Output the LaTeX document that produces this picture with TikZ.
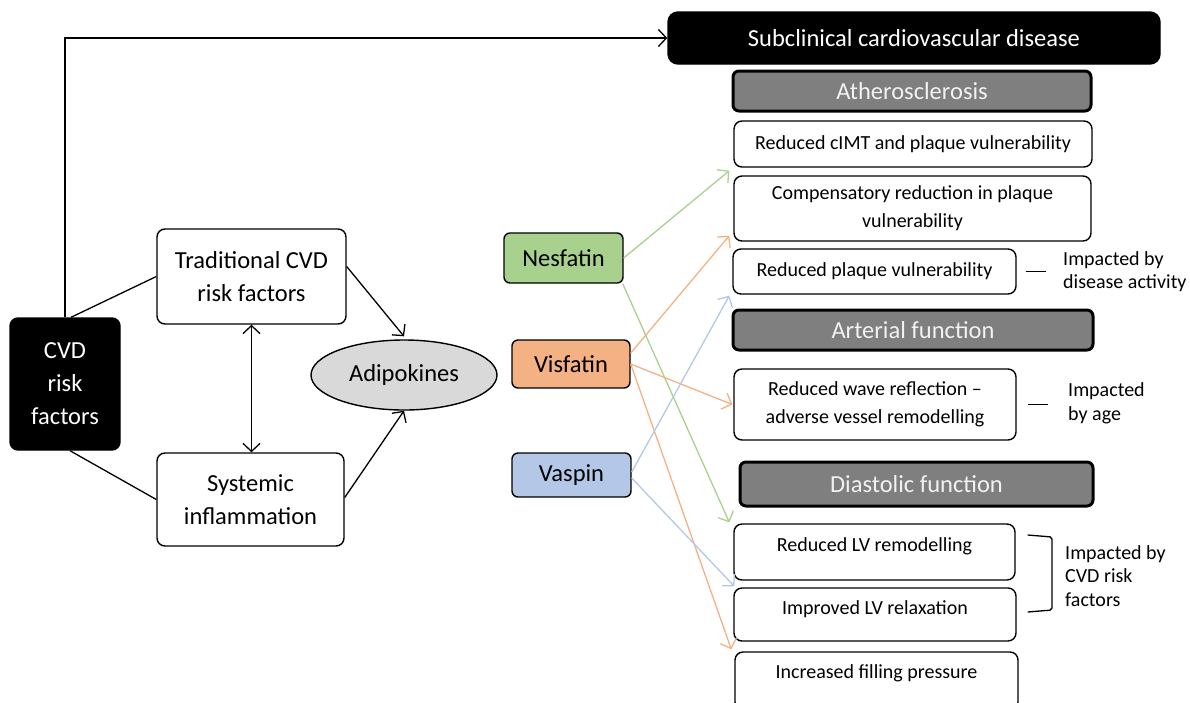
\documentclass[tikz,border=0pt]{standalone}
\usepackage{fontspec}
\setmainfont{Carlito}
\usetikzlibrary{arrows.meta,shapes.geometric}

\definecolor{headgray}{HTML}{7F7F7F}
\definecolor{adipgray}{HTML}{D9D9D9}
\definecolor{nesgreen}{HTML}{A9D18E}
\definecolor{visorange}{HTML}{F4B183}
\definecolor{vasblue}{HTML}{B4C7E7}

\tikzset{
  box/.style={draw, rounded corners=8pt, line width=1.4pt, fill=white, align=center,
    inner sep=0pt, font=\fontsize{20}{28}\selectfont},
  bigbox/.style={box, font=\fontsize{24.5}{33}\selectfont},
  darkbox/.style={bigbox, fill=black, text=white},
  headbox/.style={draw, rounded corners=6pt, line width=3pt, fill=headgray, text=white!95!black,
    inner sep=0pt, font=\fontsize{24.5}{28}\selectfont},
  pill/.style={bigbox, rounded corners=6pt},
  note/.style={align=left, anchor=west, inner sep=0pt, font=\fontsize{20}{23.5}\selectfont},
  tie/.style={line width=1.3pt},
  link/.style={tie, -{Straight Barb[length=8pt,width=17pt]}},
  duallink/.style={tie, {Straight Barb[length=8pt,width=17pt]}-{Straight Barb[length=8pt,width=17pt]}}
}

\begin{document}
\begin{tikzpicture}[x=1pt,y=-1pt]
    \useasboundingbox (0,0) rectangle (1190,702);
    % left part
    \node [darkbox, minimum width=110pt, minimum height=132pt] (cvd) at (65,384) {CVD\\risk\\factors};
    \node [bigbox, minimum width=189pt, minimum height=95pt] (trad) at (251.5,276.5) {Traditional CVD\\risk factors};
    \node [bigbox, minimum width=187pt, minimum height=93pt] (sys) at (250.5,499.5) {Systemic\\inflammation};
    \node [ellipse, draw, line width=1.4pt, fill=adipgray, inner sep=0pt, minimum width=186pt,
      minimum height=70pt, font=\fontsize{24.5}{28}\selectfont] (adip) at (404,375) {Adipokines};
    \node [pill, fill=nesgreen, minimum width=119pt, minimum height=50pt] (nes) at (563.5,258) {Nesfatin};
    \node [pill, fill=visorange, minimum width=118pt, minimum height=48pt] (vis) at (571,364) {Visfatin};
    \node [pill, fill=vasblue, minimum width=119pt, minimum height=44pt] (vas) at (571.5,475) {Vaspin};
    % right part
    \node [darkbox, rounded corners=10pt, minimum width=492pt, minimum height=52pt,
      font=\fontsize{24.5}{28}\selectfont] (sub) at (914,38) {Subclinical cardiovascular disease};
    \node [headbox, minimum width=358pt, minimum height=40pt] (ath) at (912,91) {Atherosclerosis};
    \node [box, minimum width=358pt, minimum height=46pt] (cimt) at (913,144) {Reduced cIMT and plaque vulnerability};
    \node [box, minimum width=357pt, minimum height=65pt] (comp) at (912.5,208.5) {Compensatory reduction in plaque\\vulnerability};
    \node [box, minimum width=283pt, minimum height=45pt] (plaq) at (874.5,271.5) {Reduced plaque vulnerability};
    \node [headbox, minimum width=360pt, minimum height=40pt] (art) at (913,330) {Arterial function};
    \node [box, minimum width=282pt, minimum height=71pt] (wave) at (875,404.5) {Reduced wave reflection --\\adverse vessel remodelling};
    \node [headbox, minimum width=353pt, minimum height=44pt] (dia) at (916.5,484) {Diastolic function};
    \node [box, minimum width=281pt, minimum height=56pt, text height=14pt, text depth=15pt] (lvr) at (874.5,552) {Reduced LV remodelling};
    \node [box, minimum width=282pt, minimum height=53pt, text height=14pt, text depth=14pt] (lvrel) at (875,614.5) {Improved LV relaxation};
    \node [box, minimum width=283pt, minimum height=58pt, text height=14pt, text depth=19pt] (fill) at (876.5,681) {Increased filling pressure};
    \node [note] (imp1) at (1063,271.5) {Impacted by\\disease activity};
    \node [note] (imp2) at (1068,403.5) {Impacted\\by age};
    \node [note] (imp3) at (1065,576) {Impacted by\\CVD risk\\factors};
    % black connectors
    \draw [link] (cvd.north) |- (sub.west);
    \draw [tie] ([xshift=6pt]cvd.north) -- (trad.west);
    \draw [tie] ([xshift=5pt]cvd.south) -- (sys.west);
    \draw [duallink] (trad.south) -- (trad.south |- sys.north);
    \draw [link] ([yshift=10pt]trad.east) -- ([yshift=3pt]adip.north);
    \draw [link] ([yshift=2pt]sys.east) -- (adip.south);
    % coloured connectors
    \draw [link, nesgreen] (nes.east) -- ([shift={(-4pt,-3pt)}]cimt.south west);
    \draw [link, nesgreen] ([xshift=-1pt]nes.south east) -- ([shift={(-4pt,1pt)}]lvr.north west);
    \draw [link, visorange] ([yshift=11pt]vis.east) -- ([shift={(-4pt,6pt)}]comp.south west);
    \draw [link, visorange] (vis.east) -- ([xshift=-1pt]wave.west);
    \draw [link, visorange] (vis.east) -- ([shift={(-3pt,2pt)}]fill.north west);
    \draw [link, vasblue] ([yshift=3pt]vas.east) -- ([shift={(-3pt,-1pt)}]plaq.south west);
    \draw [link, vasblue] ([yshift=-3pt]vas.east) -- ([shift={(1pt,1pt)}]lvrel.north west);
    % notes
    \draw [tie] ([xshift=9pt]plaq.east) -- ([xshift=29pt]plaq.east);
    \draw [tie] ([xshift=11pt]wave.east) -- ([xshift=31pt]wave.east);
    \draw [tie, rounded corners=2pt] ([xshift=12pt]lvr.east |- 0,535) -- (1052,537) -- (1052,610) -- ([xshift=12pt]lvr.east |- 0,612);
\end{tikzpicture}
\end{document}
